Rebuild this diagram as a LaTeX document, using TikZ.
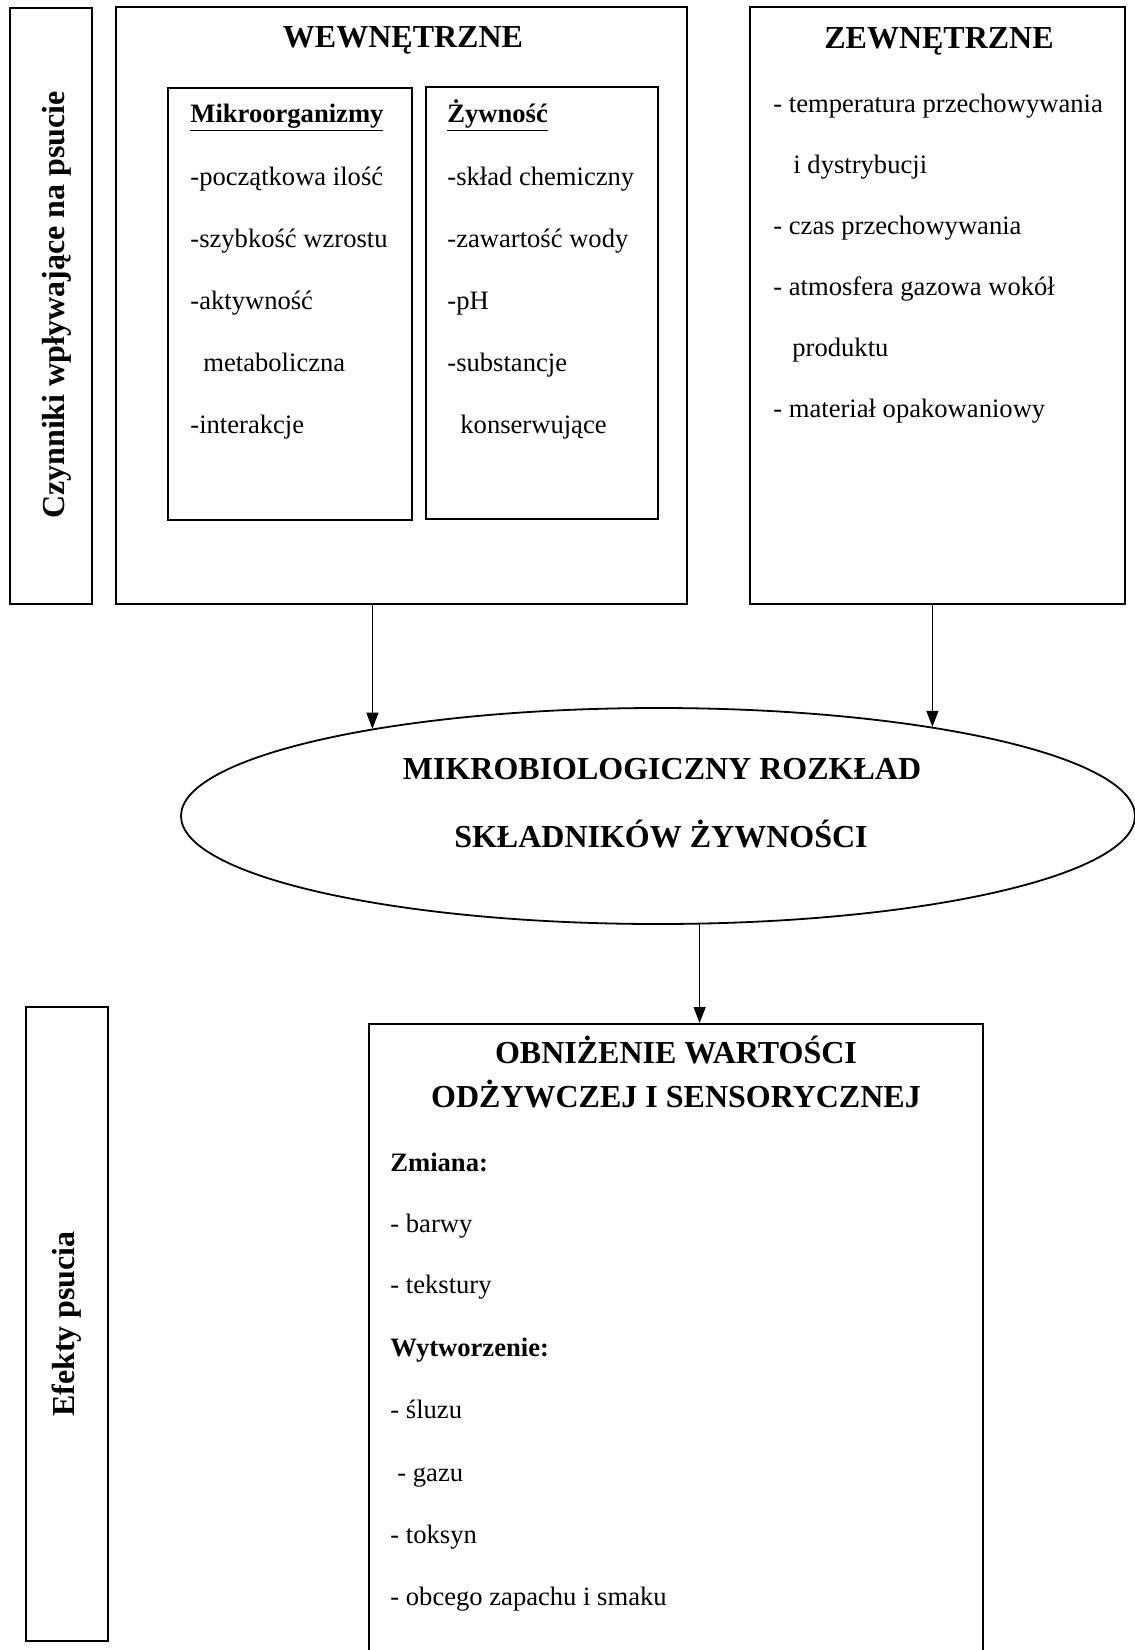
\documentclass[tikz,border=0pt]{standalone}
\usepackage{fontspec}
\setmainfont{Liberation Serif}
\usepackage{tikz}
\usetikzlibrary{arrows.meta,positioning,fit,shapes.geometric}
\tikzset{
	>=Latex,
	groupbox/.style={
		draw,
		line width=1pt,
		inner sep=0pt
	},
	blob/.style={
		ellipse,
		draw,
		line width=0.9pt,
		minimum width=477pt,
		minimum height=108pt,
		inner sep=0pt
	},
	conn/.style={
		-{Triangle[length=8pt,width=6pt]},
		line width=0.65pt
	},
	heading/.style={
		anchor=base,
		inner sep=0pt,
		font=\bfseries\fontsize{16}{19}\selectfont
	},
	item/.style={
		anchor=base west,
		inner sep=0pt,
		font=\fontsize{13.3}{16}\selectfont
	},
	subhead/.style={
		item,
		font=\bfseries\fontsize{13.3}{16}\selectfont
	}
}

\begin{document}
\begin{tikzpicture}[x=0.5pt,y=-0.5pt]
	\path[use as bounding box,clip] (0,0) rectangle (1135,1650);
	
	% Boxes
	\node[groupbox,fit={(10,8) (92,604)}] (factors) {};
	\node[heading,rotate=90,anchor=center] (factorsT) at (57,305) {Czynniki wpływające na psucie};
	
	\node[groupbox,fit={(116,7) (687,604)}] (inner) {};
	\node[heading] (innerT) at (403,47) {WEWNĘTRZNE};
	
	\node[groupbox,fit={(168,88) (412,520)}] (microbes) {};
	\node[groupbox,fit={(426,87) (658,519)}] (food) {};
	
	\node[groupbox,fit={(750,7) (1125,604)}] (outer) {};
	\node[heading] (outerT) at (939,48) {ZEWNĘTRZNE};
	
	\node[blob] (ell) at (658,816) {};
	\node[heading] (ellT1) at (662,779) {MIKROBIOLOGICZNY ROZKŁAD};
	\node[heading] (ellT2) at (661,847) {SKŁADNIKÓW ŻYWNOŚCI};
	
	\node[groupbox,fit={(26,1007) (108,1641)}] (effectsL) {};
	\node[heading,rotate=90,anchor=center] (effectsLT) at (67,1324) {Efekty psucia};
	
	\node[groupbox,fit={(369,1024) (983,1720)}] (effects) {};
	\node[heading] (effT1) at (676,1063) {OBNIŻENIE WARTOŚCI};
	\node[heading] (effT2) at (676,1107) {ODŻYWCZEJ I SENSORYCZNEJ};
	
	% Lists
	\node[subhead] (m0) at (190,122) {\underline{Mikroorganizmy}};
	\node[item] (m1) at (190,185) {-początkowa ilość};
	\node[item] (m2) at (190,247) {-szybkość wzrostu};
	\node[item] (m3) at (190,309) {-aktywność};
	\node[item] (m4) at (203,371) {metaboliczna};
	\node[item] (m5) at (190,433) {-interakcje};
	
	\node[subhead] (f0) at (447,122) {\underline{Żywność}};
	\node[item] (f1) at (447,185) {-skład chemiczny};
	\node[item] (f2) at (447,247) {-zawartość wody};
	\node[item] (f3) at (447,309) {-pH};
	\node[item] (f4) at (447,371) {-substancje};
	\node[item] (f5) at (460,433) {konserwujące};
	
	\node[item] (z1) at (773,112) {- temperatura przechowywania};
	\node[item] (z2) at (793,173) {i dystrybucji};
	\node[item] (z3) at (773,234) {- czas przechowywania};
	\node[item] (z4) at (773,295) {- atmosfera gazowa wokół};
	\node[item] (z5) at (792,356) {produktu};
	\node[item] (z6) at (773,417) {- materiał opakowaniowy};
	
	\node[subhead] (e0) at (390,1171) {Zmiana:};
	\node[item] (e1) at (390,1232) {- barwy};
	\node[item] (e2) at (390,1293) {- tekstury};
	\node[subhead] (e3) at (390,1356) {Wytworzenie:};
	\node[item] (e4) at (390,1418) {- śluzu};
	\node[item] (e5) at (397,1481) {- gazu};
	\node[item] (e6) at (390,1543) {- toksyn};
	\node[item] (e7) at (390,1605) {- obcego zapachu i smaku};
	
	% Connections
	\draw[conn] (inner.south -| ell.163.5) -- (ell.163.5);
	\draw[conn] (outer.south -| ell.18) -- (ell.18);
	\draw[conn] (ell.-69.8) -- (ell.-69.8 |- effects.north);
	
\end{tikzpicture}
\end{document}
